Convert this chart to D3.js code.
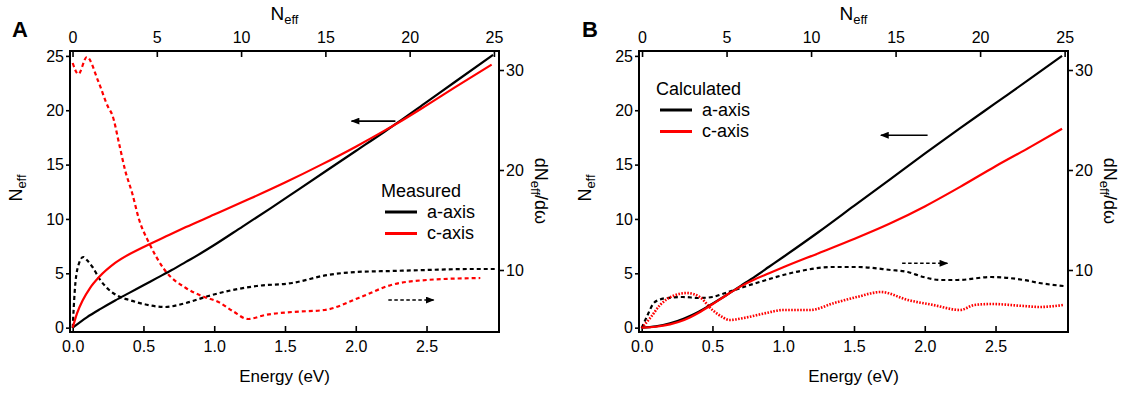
<!DOCTYPE html>
<html><head><meta charset="utf-8">
<script src="https://cdn.jsdelivr.net/npm/d3@7"></script>
<style>
body{margin:0;background:#fff}
text{font-family:"Liberation Sans",Arial,Helvetica,sans-serif;fill:#000}
</style>
</head><body>
<svg id="chart" width="1125" height="397"></svg>
<script>
// ---------- tick labels ----------
const energyTicks = [0, 0.5, 1.0, 1.5, 2.0, 2.5];
const neffTicks   = [0, 5, 10, 15, 20, 25];
const dndwTicks   = [10, 20, 30];

// ---------- Panel A : measured ----------  [energy (eV), value]
const measA_Neff = [[0,0],[0.1,0.95],[0.2,1.75],[0.3,2.5],[0.4,3.2],[0.5,3.9],[0.6,4.6],[0.7,5.3],[0.8,6.05],[0.9,6.8],[1.0,7.6],[1.2,9.3],[1.4,11.0],[1.6,12.75],[1.8,14.5],[2.0,16.25],[2.2,18.0],[2.3,18.9],[2.5,20.75],[2.7,22.6],[2.97,25.1]];
const measC_Neff = [[0,0],[0.03,1.3],[0.07,2.5],[0.12,3.6],[0.19,4.7],[0.3,5.95],[0.49,7.35],[0.66,8.4],[0.8,9.25],[1.0,10.4],[1.25,11.85],[1.5,13.35],[1.75,14.95],[2.0,16.65],[2.2,18.1],[2.3,18.85],[2.5,20.45],[2.7,22.1],[2.96,24.2]];
const measA_dN = [[0,4.2],[0.015,8.0],[0.035,10.2],[0.075,11.3],[0.1,11.0],[0.14,10.3],[0.19,9.1],[0.25,8.1],[0.32,7.4],[0.4,7.0],[0.5,6.6],[0.65,6.3],[0.8,6.7],[0.96,7.4],[1.13,8.0],[1.3,8.4],[1.55,8.7],[1.8,9.5],[2.0,9.8],[2.25,9.9],[2.5,10.0],[2.8,10.1],[3.0,10.1]];
const measC_dN = [[0,30.7],[0.04,29.6],[0.1,31.3],[0.18,28.9],[0.25,26.3],[0.28,25.5],[0.33,22.5],[0.37,20.0],[0.42,17.7],[0.47,15.0],[0.54,12.7],[0.65,10.0],[0.8,8.2],[0.93,7.3],[1.03,6.8],[1.13,5.9],[1.24,5.1],[1.36,5.5],[1.55,5.8],[1.78,6.0],[2.02,7.2],[2.25,8.5],[2.5,9.0],[2.88,9.2]];

// ---------- Panel B : calculated ----------
const calcA_Neff = [[0,0],[0.1,0.12],[0.2,0.4],[0.3,0.85],[0.4,1.45],[0.5,2.2],[0.6,3.0],[0.7,3.85],[0.8,4.7],[0.9,5.6],[1.0,6.5],[1.25,8.8],[1.5,11.2],[1.75,13.6],[2.0,16.0],[2.25,18.35],[2.5,20.65],[2.75,22.95],[2.97,25.0]];
const calcC_Neff = [[0,0],[0.1,0.08],[0.2,0.3],[0.3,0.7],[0.4,1.35],[0.5,2.15],[0.6,3.0],[0.7,3.8],[0.8,4.45],[0.9,5.0],[1.0,5.55],[1.25,6.85],[1.5,8.15],[1.75,9.55],[2.0,11.15],[2.25,12.95],[2.5,14.85],[2.75,16.65],[2.97,18.3]];
const calcA_dN = [[0,4.2],[0.045,5.6],[0.08,6.6],[0.12,7.0],[0.18,7.2],[0.29,7.3],[0.41,7.2],[0.5,7.3],[0.57,7.6],[0.72,8.3],[0.88,9.0],[1.0,9.5],[1.12,9.9],[1.35,10.3],[1.52,10.3],[1.76,10.0],[1.88,9.8],[1.99,9.3],[2.11,9.0],[2.23,9.0],[2.47,9.3],[2.70,9.0],[2.81,8.7],[2.98,8.4]];
const calcC_dN = [[0,4.2],[0.06,5.2],[0.13,6.5],[0.22,7.4],[0.32,7.7],[0.41,7.3],[0.5,6.0],[0.57,5.3],[0.62,5.0],[0.72,5.2],[0.88,5.7],[1.0,6.0],[1.19,6.0],[1.36,6.7],[1.52,7.3],[1.69,7.8],[1.88,7.0],[2.06,6.5],[2.25,6.0],[2.35,6.5],[2.47,6.6],[2.70,6.4],[2.81,6.3],[2.98,6.5]];

// arrows: [E start, E end, value] ; axis: 'L' (Neff) or 'R' (dN/dw)
const arrowsA = [{from:2.28, to:1.97, v:19.0, axis:'L', dash:false},{from:2.23, to:2.55, v:7.0, axis:'R', dash:true}];
const arrowsB = [{from:2.02, to:1.69, v:17.7, axis:'L', dash:false},{from:1.84, to:2.16, v:10.67, axis:'R', dash:true}];

const svg = d3.select('#chart');
const defs = svg.append('defs');
defs.append('marker').attr('id','head').attr('viewBox','0 0 10 8')
  .attr('refX',9).attr('refY',4).attr('markerWidth',9).attr('markerHeight',7)
  .attr('markerUnits','userSpaceOnUse').attr('orient','auto')
  .append('path').attr('d','M0,0 L10,4 L0,8 Z').attr('fill','#000');

const Y0 = 51, Y1 = 332;

function drawPanel(cfg){
  const g = svg.append('g');
  const x = d3.scaleLinear().domain([-0.019, 3.012]).range([cfg.x0, cfg.x1]);
  const xt = d3.scaleLinear().domain(cfg.topDomain).range([cfg.x0, cfg.x1]);
  const yL = d3.scaleLinear().domain([-0.4, 25.45]).range([Y1, Y0]);
  const yR = d3.scaleLinear().domain([3.8, 31.9]).range([Y1, Y0]);

  const fs = 16;
  const ax = (sel) => { sel.select('.domain').remove();
    sel.selectAll('.tick line').attr('stroke','#000').attr('stroke-width',1.6);
    sel.selectAll('.tick text').attr('font-size',fs).attr('font-family','"Liberation Sans",Arial,sans-serif').attr('fill','#000'); };

  g.append('g').attr('transform',`translate(0,${Y1})`)
    .call(d3.axisBottom(x).tickValues(energyTicks).tickSize(-6).tickPadding(9).tickFormat(d3.format('.1f'))).call(ax);
  g.append('g').attr('transform',`translate(0,${Y0})`)
    .call(d3.axisTop(xt).tickValues(neffTicks).tickSize(-6).tickPadding(8).tickFormat(d3.format('d'))).call(ax);
  g.append('g').attr('transform',`translate(${cfg.x0},0)`)
    .call(d3.axisLeft(yL).tickValues(neffTicks).tickSize(4).tickPadding(2).tickFormat(d3.format('d'))).call(ax);
  g.append('g').attr('transform',`translate(${cfg.x1},0)`)
    .call(d3.axisRight(yR).tickValues(dndwTicks).tickSize(5).tickPadding(2).tickFormat(d3.format('d'))).call(ax);

  // frame
  g.append('rect').attr('x',cfg.x0).attr('y',Y0).attr('width',cfg.x1-cfg.x0).attr('height',Y1-Y0)
    .attr('fill','none').attr('stroke','#000').attr('stroke-width',2);

  const lineL = d3.line().x(d=>x(d[0])).y(d=>yL(d[1])).curve(d3.curveMonotoneX);
  const lineR = d3.line().x(d=>x(d[0])).y(d=>yR(d[1])).curve(d3.curveMonotoneX);

  cfg.series.forEach(s=>{
    g.append('path').datum(s.data).attr('d', s.axis==='L'? lineL : lineR)
      .attr('fill','none').attr('stroke',s.color).attr('stroke-width',s.width||2.2)
      .attr('stroke-dasharray', s.dash||null).attr('stroke-linejoin','round');
  });

  cfg.arrows.forEach(a=>{
    const yy = a.axis==='L'? yL(a.v) : yR(a.v);
    g.append('line').attr('x1',x(a.from)).attr('x2',x(a.to)).attr('y1',yy).attr('y2',yy)
      .attr('stroke','#000').attr('stroke-width',1.6).attr('stroke-dasharray',a.dash?'3.5,2.5':null)
      .attr('marker-end','url(#head)');
  });

  // legend
  const lg = cfg.legend;
  g.append('text').attr('x',lg.x).attr('y',lg.y).attr('font-size',18).text(lg.title);
  lg.items.forEach((it,i)=>{
    const yy = lg.y + 15 + i*21.5;
    g.append('line').attr('x1',lg.x+lg.dx).attr('x2',lg.x+lg.dx+32).attr('y1',yy).attr('y2',yy)
      .attr('stroke',it.color).attr('stroke-width',3);
    g.append('text').attr('x',lg.x+lg.dx+42).attr('y',yy+5.5).attr('font-size',18).text(it.label);
  });

  const cx = (cfg.x0+cfg.x1)/2;
  g.append('text').attr('x',cx).attr('y',382).attr('text-anchor','middle').attr('font-size',17).text('Energy (eV)');
  const tt = g.append('text').attr('x',cx).attr('y',20).attr('text-anchor','middle').attr('font-size',19);
  tt.append('tspan').text('N'); tt.append('tspan').attr('font-size',13).attr('dy',4).text('eff');
  const lt = g.append('text').attr('transform',`translate(${cfg.x0-48},188) rotate(-90)`).attr('text-anchor','middle').attr('font-size',18);
  lt.append('tspan').text('N'); lt.append('tspan').attr('font-size',13).attr('dy',4).text('eff');
  const rt = g.append('text').attr('transform',`translate(${cfg.x1+36},191) rotate(90)`).attr('text-anchor','middle').attr('font-size',18);
  rt.append('tspan').text('dN'); rt.append('tspan').attr('font-size',13).attr('dy',4).text('eff');
  rt.append('tspan').attr('dy',-4).text('/dω');
  g.append('text').attr('x',cfg.letterX).attr('y',37).attr('font-size',22).attr('font-weight','bold').text(cfg.letter);
}

drawPanel({
  x0:70, x1:499, topDomain:[-0.15,25.3], letter:'A', letterX:12,
  series:[
    {data:measA_dN, axis:'R', color:'#000', dash:'4,3', width:2.2},
    {data:measC_dN, axis:'R', color:'#f00', dash:'4,3', width:2.2},
    {data:measA_Neff, axis:'L', color:'#000'},
    {data:measC_Neff, axis:'L', color:'#f00'}
  ],
  arrows:arrowsA,
  legend:{x:381, y:197, dx:4, title:'Measured', items:[{label:'a-axis',color:'#000'},{label:'c-axis',color:'#f00'}]}
});
drawPanel({
  x0:639, x1:1068, topDomain:[-0.18,25.2], letter:'B', letterX:582,
  series:[
    {data:calcA_dN, axis:'R', color:'#000', dash:'4,3', width:2.2},
    {data:calcC_dN, axis:'R', color:'#f00', dash:'1.6,1.4', width:2.6},
    {data:calcA_Neff, axis:'L', color:'#000'},
    {data:calcC_Neff, axis:'L', color:'#f00'}
  ],
  arrows:arrowsB,
  legend:{x:656, y:95, dx:4, title:'Calculated', items:[{label:'a-axis',color:'#000'},{label:'c-axis',color:'#f00'}]}
});
</script>
</body></html>
